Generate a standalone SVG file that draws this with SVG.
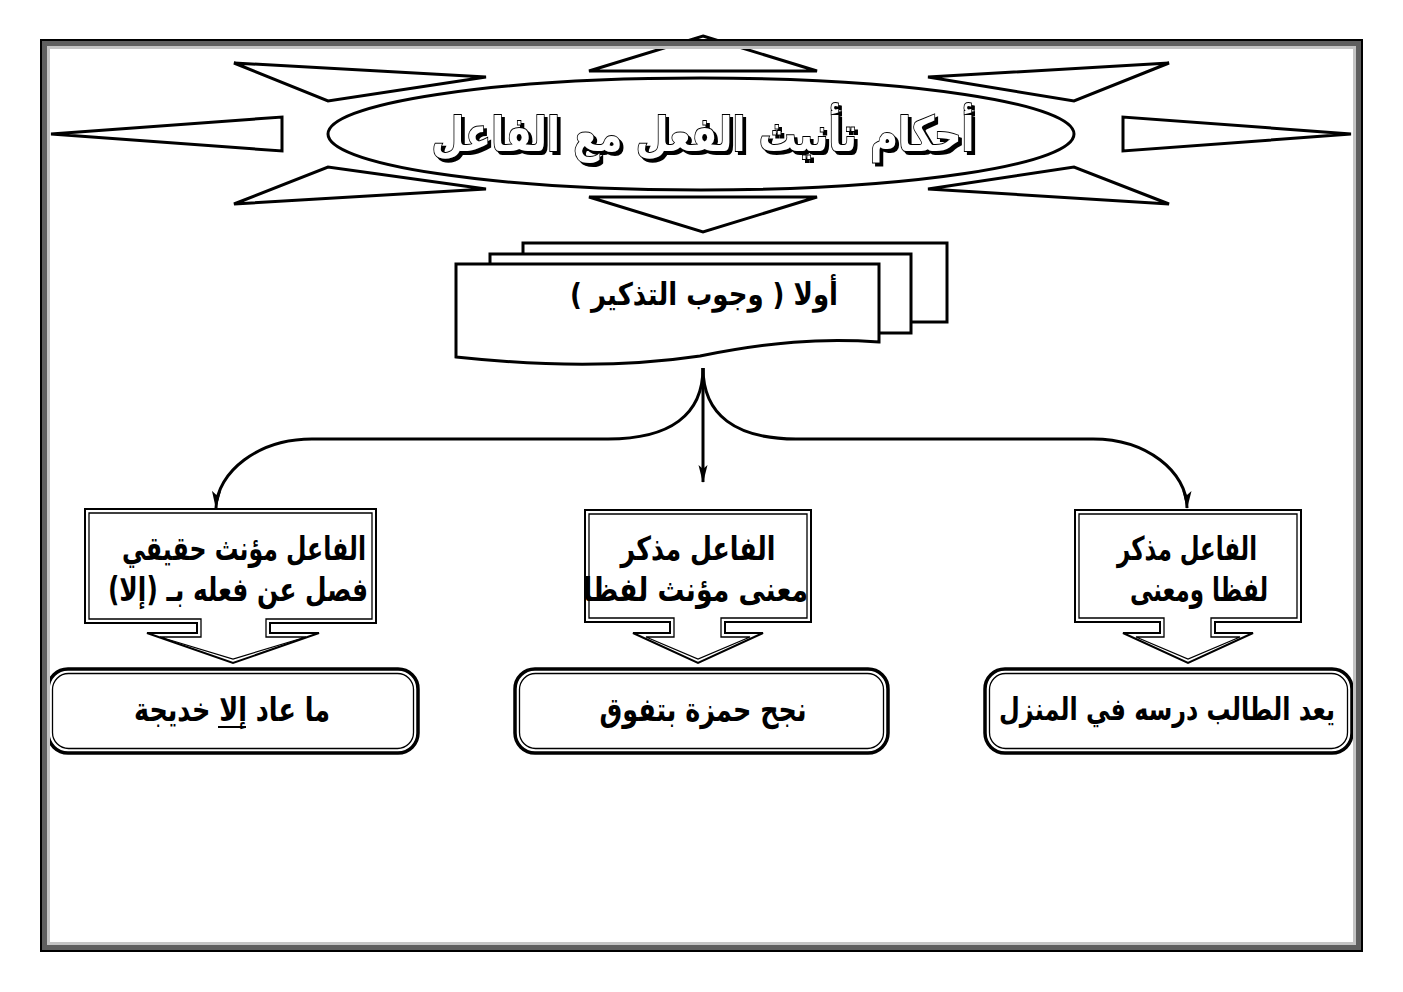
<svg xmlns="http://www.w3.org/2000/svg" width="1403" height="992" viewBox="0 0 1403 992">
<defs>
<style>
.spk{fill:#fff;stroke:#000;stroke-width:3;stroke-linejoin:miter}
.ar{font-family:"DejaVu Sans","Noto Sans",sans-serif;font-weight:bold;fill:#000}
.doc{fill:#fff;stroke:#000;stroke-width:3}
.co1{fill:#fff;stroke:#000;stroke-width:2}
.co2{fill:none;stroke:#000;stroke-width:1.3}
.rb1{fill:#fff;stroke:#000;stroke-width:3.5}
.rb2{fill:none;stroke:#000;stroke-width:1.3}
.con{fill:none;stroke:#000;stroke-width:3}
</style>
<marker id="ah" markerUnits="userSpaceOnUse" viewBox="0 0 18 10" markerWidth="18" markerHeight="10" refX="17" refY="5" orient="auto">
<path d="M0,0.5 L18,5 L0,9.5 L4,5 Z" fill="#000" stroke="none"/>
</marker>
<filter id="shadow" x="-5%" y="-20%" width="110%" height="150%">
<feDropShadow dx="3" dy="3" stdDeviation="0" flood-color="#000" flood-opacity="1"/>
</filter>
</defs>
<rect x="0" y="0" width="1403" height="992" fill="#fff"/>

<g id="title">
<polygon class="spk" points="703,36 817,71 589,71"/>
<polygon class="spk" points="589,197 817,197 703,232"/>
<polygon class="spk" points="234,63 486,77 328,101"/>
<polygon class="spk" points="234,204 486,189 328,167"/>
<polygon class="spk" points="51,134 282,117 282,151"/>
<polygon class="spk" points="1169,63 928,77 1074,101"/>
<polygon class="spk" points="1169,204 928,189 1074,167"/>
<polygon class="spk" points="1351,134 1123,117 1123,151"/>
<ellipse class="spk" cx="701" cy="134" rx="373" ry="56"/>
<text x="703" y="151" text-anchor="middle" direction="rtl" font-family="DejaVu Sans, sans-serif" font-weight="bold" font-size="48" textLength="543" lengthAdjust="spacingAndGlyphs" fill="#fff" stroke="#000" stroke-width="2" paint-order="stroke" filter="url(#shadow)">أحكام تأنيث الفعل مع الفاعل</text>
</g>

<g id="doc-stack">
<rect class="doc" x="523" y="243" width="424" height="79"/>
<rect class="doc" x="490" y="254" width="421" height="79"/>
<path class="doc" d="M456,264 H879 V342 C820,338 770,342 700,356 C620,368 540,366 456,357 Z"/>
<text class="ar" x="838" y="305" text-anchor="start" direction="rtl" font-size="31" textLength="268" lengthAdjust="spacingAndGlyphs">أولا ( وجوب التذكير )</text>
</g>

<g id="connectors">
<path class="con" d="M703,368 V482" marker-end="url(#ah)"/>
<path class="con" d="M703,368 C703,415 670,439 608,439 H312 C258,439 217,472 216,508" marker-end="url(#ah)"/>
<path class="con" d="M703,368 C703,415 736,439 796,439 H1093 C1147,439 1187,472 1187,508" marker-end="url(#ah)"/>
</g>

<g id="callout-left">
<path class="co1" d="M85,509 H376 V623 H270 V633 H319 L233,663 L147,633 H197 V623 H85 Z"/>
<path class="co2" d="M89,513 H372 V619 H266 V637 H306 L233,659 L160,637 H201 V619 H89 Z"/>
<text class="ar" x="366" y="560" text-anchor="start" direction="rtl" font-size="33" textLength="244" lengthAdjust="spacingAndGlyphs">الفاعل مؤنث حقيقي</text>
<text class="ar" x="368" y="601" text-anchor="start" direction="rtl" font-size="33" textLength="260" lengthAdjust="spacingAndGlyphs">فصل عن فعله بـ (إلا)</text>
</g>

<g id="callout-center">
<path class="co1" d="M585,510 H811 V622 H725 V633 H763 L698,663 L633,633 H670 V622 H585 Z"/>
<path class="co2" d="M589,514 H807 V618 H721 V637 H750 L698,659 L646,637 H674 V618 H589 Z"/>
<text class="ar" x="698" y="560" text-anchor="middle" direction="rtl" font-size="33" textLength="155" lengthAdjust="spacingAndGlyphs">الفاعل مذكر</text>
<text class="ar" x="808" y="601" text-anchor="start" direction="rtl" font-size="33" textLength="225" lengthAdjust="spacingAndGlyphs">معنى مؤنث لفظا</text>
</g>

<g id="callout-right">
<path class="co1" d="M1075,510 H1301 V622 H1215 V633 H1253 L1188,663 L1123,633 H1160 V622 H1075 Z"/>
<path class="co2" d="M1079,514 H1297 V618 H1211 V637 H1240 L1188,659 L1136,637 H1164 V618 H1079 Z"/>
<text class="ar" x="1187" y="560" text-anchor="middle" direction="rtl" font-size="33" textLength="140" lengthAdjust="spacingAndGlyphs">الفاعل مذكر</text>
<text class="ar" x="1199" y="601" text-anchor="middle" direction="rtl" font-size="33" textLength="138" lengthAdjust="spacingAndGlyphs">لفظا ومعنى</text>
</g>

<g id="box-left">
<rect class="rb1" x="48" y="669" width="370" height="84" rx="20"/>
<rect class="rb2" x="52.5" y="673.5" width="361" height="75" rx="16"/>
<text class="ar" x="232" y="721" text-anchor="middle" direction="rtl" font-size="33" textLength="196" lengthAdjust="spacingAndGlyphs">ما عاد إلا خديجة</text>
<line x1="218" y1="727" x2="246" y2="727" stroke="#000" stroke-width="2"/>
</g>

<g id="box-center">
<rect class="rb1" x="515" y="669" width="373" height="84" rx="20"/>
<rect class="rb2" x="519.5" y="673.5" width="364" height="75" rx="16"/>
<text class="ar" x="703" y="721" text-anchor="middle" direction="rtl" font-size="33" textLength="207" lengthAdjust="spacingAndGlyphs">نجح حمزة بتفوق</text>
</g>

<g id="box-right">
<rect class="rb1" x="985" y="669" width="367" height="84" rx="20"/>
<rect class="rb2" x="989.5" y="673.5" width="358" height="75" rx="16"/>
<text class="ar" x="1167" y="720" text-anchor="middle" direction="rtl" font-size="31" textLength="336" lengthAdjust="spacingAndGlyphs">يعد الطالب درسه في المنزل</text>
</g>

<g id="frame" fill="none">
<rect x="41" y="40" width="1321" height="911" stroke="#000" stroke-width="2"/>
<rect x="44.5" y="43.5" width="1314" height="904" stroke="#5f5f5f" stroke-width="5"/>
<rect x="48.5" y="47.5" width="1306" height="896" stroke="#c4c4c4" stroke-width="3"/>
</g>
</svg>
